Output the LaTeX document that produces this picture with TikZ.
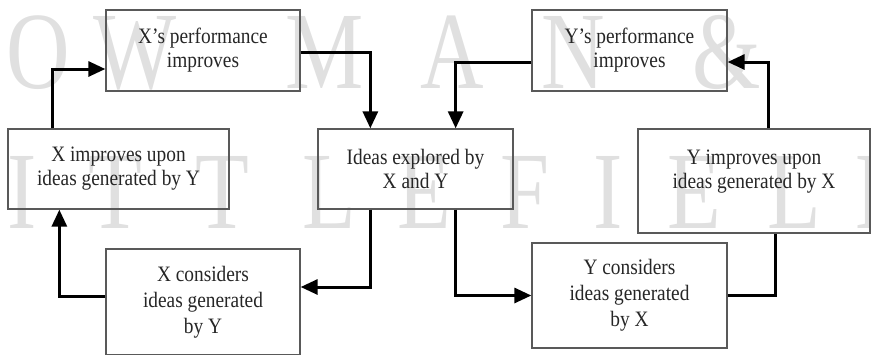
\documentclass[tikz,border=0pt]{standalone}
\usepackage{fontspec}
\setmainfont{Liberation Serif}
\newfontfamily\boxfont[FakeStretch=0.88]{Liberation Serif}
\newfontfamily\wmfont[FakeStretch=0.8]{Liberation Serif}
\usetikzlibrary{arrows.meta}

\begin{document}
\begin{tikzpicture}[x=1pt, y=-1pt,
  stage/.style={draw=black!65, line width=1.3pt, align=center, inner sep=0pt,
    text=black!85, font=\boxfont\fontsize{22}{24}\selectfont},
  tallstage/.style={stage, font=\boxfont\fontsize{22}{26}\selectfont},
  conn/.style={line width=3pt, black, -{Triangle[length=17pt, width=15pt]}},
  plainconn/.style={line width=3pt, black},
  wmletter/.style={text=black!12, inner sep=0pt,
    font=\wmfont\fontsize{110}{110}\selectfont}
]
\useasboundingbox (0,0) rectangle (871,354);

% faint publisher lettering in the background
\foreach \ch/\cx in {O/38, W/135, M/325, A/452, N/573, \&/727}
  \node[wmletter, anchor=base] (wt\cx) at (\cx,88) {\ch};
\foreach \ch/\cx in {I/22, T/115, T/222}
  \node[wmletter, anchor=base] (wb\cx) at (\cx,228) {\ch};
\foreach \ch/\cx in {L/302, E/397, F/500, E/667, L/767, D/855}
  \node[wmletter, anchor=base west] (wb\cx) at (\cx,228) {\ch};
\node[wmletter, anchor=base] (wbI) at (608,228) {I};

% process stages
\node[stage, minimum width=194pt, minimum height=81pt] (xperf) at (203,50.5)
  {X’s performance\\improves};
\node[stage, minimum width=221pt, minimum height=80pt] (ximp) at (118.5,169)
  {X improves upon\\ideas generated by Y};
\node[stage, minimum width=195pt, minimum height=80pt] (ideas) at (415.5,169)
  {Ideas explored by\\X and Y};
\node[stage, minimum width=195pt, minimum height=81pt] (yperf) at (629.5,50.5)
  {Y’s performance\\improves};
\node[stage, minimum width=232pt, minimum height=104pt] (yimp) at (754,181)
  {Y improves upon\\ideas generated by X\\\mbox{}};
\node[tallstage, minimum width=194pt, minimum height=106pt] (xcons) at (203,302)
  {X considers\\ideas generated\\by Y};
\node[tallstage, minimum width=195pt, minimum height=105pt] (ycons) at (629.5,295.5)
  {Y considers\\ideas generated\\by X};

% feedback loops
\draw[conn] ([xshift=45pt]ximp.north west) |- ([yshift=-18.5pt]xperf.west);
\draw[conn] ([yshift=-1.5pt]xperf.east) -| ([xshift=53pt]ideas.north west);
\draw[conn] ([yshift=-11.5pt]yperf.west) -| ([xshift=-58pt]ideas.north east);
\draw[conn] ([xshift=131pt]yimp.north west) |- ([yshift=-11.5pt]yperf.east);
\draw[conn] ([xshift=53pt]ideas.south west) |- ([yshift=15pt]xcons.east);
\draw[conn] ([yshift=6pt]xcons.west) -| ([xshift=52pt]ximp.south west);
\draw[conn] ([xshift=-58pt]ideas.south east) |- (ycons.west);
\draw[plainconn] (ycons.east) -| ([xshift=138pt]yimp.south west);
\end{tikzpicture}
\end{document}
